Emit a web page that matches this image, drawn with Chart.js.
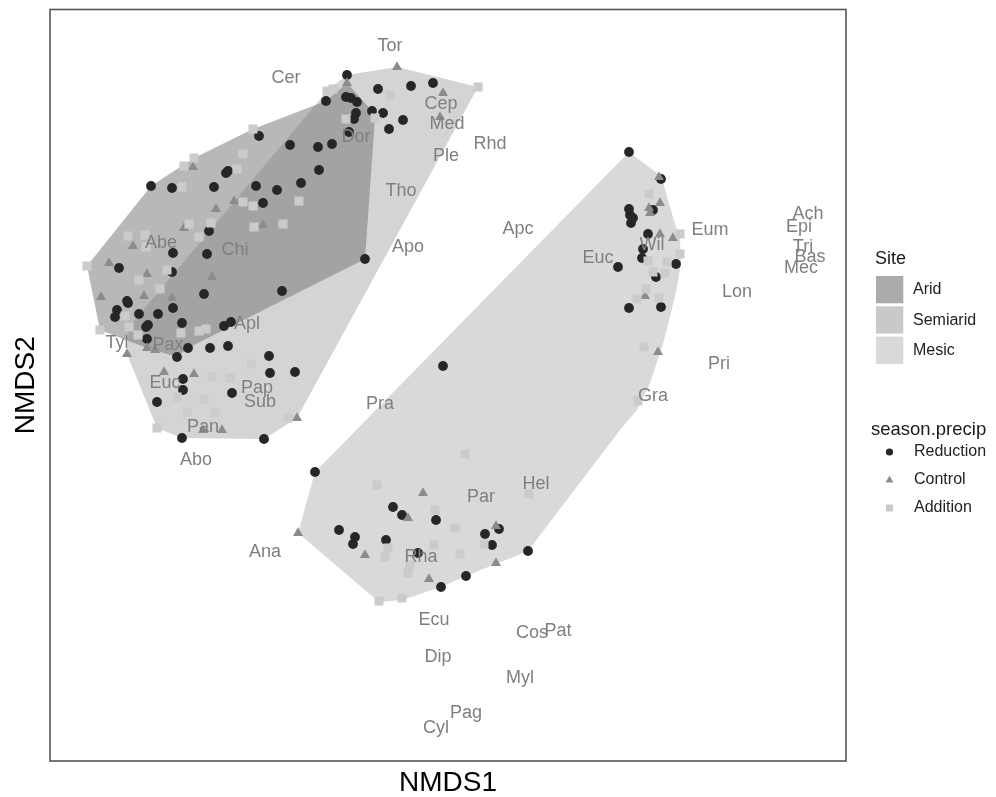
<!DOCTYPE html>
<html><head><meta charset="utf-8">
<script src="https://cdn.jsdelivr.net/npm/chart.js@4.4.1/dist/chart.umd.min.js"></script>
<style>html,body{margin:0;padding:0;background:#fff;}#wrap{width:996px;height:797px;position:relative;}</style>
</head><body><div id="wrap"><canvas id="c" width="996" height="797"></canvas></div>
<script>
// ---- DATA (NMDS scores) ----
const siteNames = ['Arid', 'Semiarid', 'Mesic'];
const treatmentNames = ['Reduction', 'Control', 'Addition'];

const reductionPts = [
 [-1.03,3.25],[-0.72,3.11],[-0.39,3.14],[-0.17,3.17],[-1.24,2.99],[-1.04,3.03],[-0.99,3.02],[-0.93,2.98],
 [-0.78,2.89],[-0.67,2.87],[-0.47,2.80],[-0.94,2.87],[-0.96,2.81],[-0.61,2.71],[-1.01,2.68],[-1.91,2.64],
 [-1.60,2.55],[-1.32,2.53],[-1.18,2.56],[-1.31,2.30],[-2.22,2.29],[-2.24,2.27],[-2.99,2.14],[-2.78,2.12],
 [-2.36,2.13],[-1.94,2.14],[-1.73,2.10],[-1.49,2.17],[-1.87,1.97],[-2.41,1.69],[-2.77,1.47],[-2.43,1.46],
 [-2.78,1.28],[-3.31,1.32],[-0.85,1.41],[-2.46,1.06],[-1.68,1.09],[-3.23,0.99],[-3.22,0.97],[-3.33,0.90],
 [-3.35,0.83],[-3.11,0.86],[-2.92,0.86],[-2.77,0.92],[-2.68,0.77],[-3.02,0.75],[-3.04,0.73],[-3.03,0.61],
 [-2.62,0.52],[-2.40,0.52],[-2.22,0.54],[-2.26,0.74],[-2.19,0.78],[-2.73,0.43],[-1.81,0.44],[-1.80,0.27],
 [-1.55,0.28],[-2.67,0.21],[-2.67,0.10],[-2.18,0.07],[-2.93,-0.02],[-2.68,-0.38],[-1.86,-0.39],
 [-0.07,0.34],[1.79,2.48],[2.11,2.21],[1.79,1.91],[1.80,1.85],[1.83,1.82],[1.81,1.77],[2.03,1.90],
 [1.98,1.66],[1.93,1.51],[1.92,1.42],[1.68,1.33],[2.26,1.36],[2.06,1.23],[1.79,0.92],[2.11,0.93],
 [-1.35,-0.72],[-0.57,-1.07],[-0.48,-1.15],[-0.14,-1.20],[-1.11,-1.30],[-0.95,-1.37],[-0.97,-1.44],
 [-0.64,-1.40],[-0.32,-1.53],[0.35,-1.34],[0.49,-1.29],[0.42,-1.45],[0.78,-1.51],[0.16,-1.76],[-0.09,-1.87]
];
const controlPts = [
 [-0.53,3.33],[-1.03,3.17],[-0.07,3.07],[-0.10,2.83],[-2.57,2.33],[-2.16,1.99],[-2.34,1.91],[-2.66,1.72],
 [-1.87,1.75],[-3.17,1.54],[-3.41,1.37],[-3.03,1.26],[-2.38,1.23],[-3.49,1.03],[-3.06,1.04],[-2.78,1.02],
 [-3.23,0.46],[-2.86,0.28],[-2.56,0.26],[-1.53,-0.18],[-2.47,-0.30],[-2.28,-0.30],[-3.03,0.52],[-2.95,0.50],
 [2.09,2.23],[2.10,1.97],[1.99,1.92],[2.00,1.87],[2.10,1.66],[2.23,1.62],[1.95,1.04],[2.08,0.48],
 [-1.52,-1.33],[-0.27,-0.93],[-0.42,-1.18],[0.46,-1.26],[-0.85,-1.55],[-0.21,-1.79],[0.46,-1.63]
];
const additionPts = [
 [-1.97,2.71],[-1.23,3.09],[-1.17,3.11],[-0.60,3.05],[-1.04,2.81],[-0.75,2.82],[-2.56,2.42],[-2.66,2.34],
 [-2.07,2.46],[-2.13,2.31],[-2.68,2.13],[-2.07,1.98],[-1.97,1.94],[-1.51,1.99],[-2.61,1.76],[-2.39,1.77],
 [-2.51,1.63],[-1.96,1.73],[-1.67,1.76],[-3.22,1.64],[-3.05,1.65],[-3.04,1.53],[-3.63,1.34],[-2.83,1.30],
 [-3.11,1.20],[-2.90,1.11],[-3.25,0.84],[-3.50,0.70],[-3.21,0.73],[-3.12,0.65],[-2.69,0.67],[-2.51,0.69],
 [-2.44,0.71],[-1.99,0.36],[-2.38,0.23],[-2.20,0.22],[-2.73,0.03],[-2.46,0.01],[-2.63,-0.12],[-2.35,-0.13],
 [-1.62,-0.18],[-2.93,-0.28],[0.28,3.13],
 [1.99,2.06],[2.30,1.66],[2.30,1.46],[1.98,1.39],[2.17,1.38],[2.15,1.27],[2.03,1.28],[1.96,1.11],
 [1.87,1.01],[2.09,1.02],[1.94,0.53],[1.88,-0.01],[0.15,-0.54],[-0.73,-0.85],[-0.15,-1.10],[0.05,-1.28],
 [-0.16,-1.45],[0.10,-1.54],[0.34,-1.44],[0.79,-0.94],[-0.65,-1.57],[-0.62,-1.48],[-0.40,-1.65],
 [-0.42,-1.73],[-0.71,-2.01],[-0.48,-1.98]
];

// convex hulls of each site (vertices)
const aridHull = [[-3.63,1.34],[-2.99,2.14],[-2.56,2.42],[-1.97,2.71],[-1.24,2.99],[-1.03,3.17],[-0.78,2.89],
 [-0.75,2.82],[-0.85,1.41],[-2.62,0.52],[-2.73,0.43],[-3.03,0.52],[-3.50,0.70]];
const semiaridHull = [[-0.53,3.33],[0.28,3.13],[-1.53,-0.18],[-1.86,-0.39],[-2.68,-0.38],[-2.93,-0.28],
 [-3.23,0.46],[-3.21,0.73],[-1.23,3.09],[-1.03,3.25]];
const mesicHull = [[1.79,2.48],[2.11,2.24],[2.23,1.83],[2.30,1.60],[2.31,1.37],[2.27,1.13],[2.20,0.83],
 [2.12,0.53],[2.00,0.17],[1.87,-0.10],[1.70,-0.30],[0.78,-1.51],[0.16,-1.76],[-0.09,-1.87],[-0.48,-2.00],
 [-0.71,-2.02],[-1.52,-1.33],[-1.35,-0.72]];

// species scores (labels)
const speciesNames = ['Tor','Cer','Cep','Med','Rhd','Ple','Dor','Tho','Apo','Apc','Euc','Wil','Eum','Ach','Epi',
 'Tri','Bas','Mec','Lon','Pri','Gra','Pra','Hel','Par','Rha','Ana','Ecu','Cos','Pat','Dip','Myl','Pag','Cyl',
 'Abe','Chi','Apl','Tyl','Pax','Euc','Pap','Sub','Pan','Abo'];
const speciesX = [-0.60,-1.64,-0.09,-0.03,0.40,-0.04,-0.94,-0.49,-0.42,0.68,1.48,2.02,2.60,3.58,3.49,
 3.53,3.60,3.51,2.87,2.69,2.03,-0.70,0.86,0.31,-0.29,-1.85,-0.16,0.82,1.08,-0.12,0.70,0.16,-0.14,
 -2.89,-2.15,-2.03,-3.33,-2.82,-2.85,-1.93,-1.90,-2.47,-2.54];
const speciesY = [3.54,3.22,2.96,2.76,2.56,2.44,2.63,2.09,1.53,1.71,1.42,1.55,1.70,1.86,1.73,
 1.53,1.43,1.32,1.08,0.36,0.04,-0.04,-0.84,-0.97,-1.57,-1.52,-2.20,-2.33,-2.31,-2.57,-2.78,-3.13,-3.28,
 1.57,1.50,0.76,0.57,0.55,0.17,0.12,-0.02,-0.27,-0.60];

// ---- STYLE ----
const FONT = '"Liberation Sans", Arial, Helvetica, sans-serif';
const siteFill = {Arid: 'rgba(119,119,119,0.52)', Semiarid: '#d4d4d4', Mesic: '#d9d9d9'};
const siteKey = {Arid: '#ababab', Semiarid: '#c9c9c9', Mesic: '#d9d9d9'};
const ptColor = {Reduction: '#262626', Control: '#8c8c8c', Addition: '#cbcbcb'};

const toXY = a => a.map(p => ({x: p[0], y: p[1]}));
const closed = a => toXY(a.concat([a[0]]));
const hullDs = (label, pts, order) => ({label, data: closed(pts), showLine: true, fill: 'shape',
  backgroundColor: siteFill[label], borderColor: 'rgba(0,0,0,0)', borderWidth: 0, pointRadius: 0,
  pointHoverRadius: 0, tension: 0, order});

const labelPlugin = {
  id: 'speciesLabels',
  afterDatasetsDraw(chart) {
    const {ctx, scales: {x, y}} = chart;
    ctx.save();
    ctx.font = '18px ' + FONT;
    ctx.fillStyle = '#7f7f7f';
    ctx.textAlign = 'center';
    ctx.textBaseline = 'middle';
    speciesNames.forEach((n, i) => ctx.fillText(n, x.getPixelForValue(speciesX[i]), y.getPixelForValue(speciesY[i])));
    ctx.restore();
  }
};
const framePlugin = {
  id: 'frameLegend',
  afterDraw(chart) {
    const {ctx, chartArea: a} = chart;
    ctx.save();
    ctx.strokeStyle = '#555';
    ctx.lineWidth = 1.6;
    ctx.strokeRect(a.left, a.top, a.right - a.left, a.bottom - a.top);
    // legend
    const lx = a.right + 30;
    ctx.textBaseline = 'middle';
    ctx.textAlign = 'left';
    ctx.fillStyle = '#1a1a1a';
    ctx.font = '18px ' + FONT;
    ctx.fillText('Site', lx - 1, 259);
    siteNames.forEach((s, i) => {
      const top = 276 + i * 30.3;
      ctx.fillStyle = siteKey[s];
      ctx.fillRect(lx, top, 27.3, 27.3);
      ctx.fillStyle = '#222';
      ctx.font = '16px ' + FONT;
      ctx.fillText(s, lx + 37, top + 14);
    });
    ctx.fillStyle = '#1a1a1a';
    ctx.font = '18.5px ' + FONT;
    ctx.fillText('season.precip', lx - 5, 430);
    treatmentNames.forEach((t, i) => {
      const cy = 452 + i * 28, cx = lx + 13.5;
      ctx.fillStyle = ptColor[t];
      ctx.beginPath();
      if (t === 'Reduction') { ctx.arc(cx, cy, 3.6, 0, Math.PI * 2); }
      else if (t === 'Control') { ctx.moveTo(cx, cy - 4.2); ctx.lineTo(cx + 4, cy + 2.6); ctx.lineTo(cx - 4, cy + 2.6); ctx.closePath(); }
      else { ctx.rect(cx - 3.5, cy - 3.5, 7, 7); }
      ctx.fill();
      ctx.fillStyle = '#222';
      ctx.font = '16px ' + FONT;
      ctx.fillText(t, lx + 38, cy);
    });
    ctx.restore();
  }
};

new Chart(document.getElementById('c'), {
  type: 'scatter',
  data: {
    datasets: [
      hullDs('Mesic', mesicHull, 10),
      hullDs('Semiarid', semiaridHull, 9),
      hullDs('Arid', aridHull, 8),
      {label: 'Reduction', data: toXY(reductionPts), pointStyle: 'circle', pointRadius: 4.9, pointHoverRadius: 4.9,
       backgroundColor: ptColor.Reduction, borderWidth: 0, order: 3},
      {label: 'Control', data: toXY(controlPts), pointStyle: 'triangle', pointRadius: 5.8, pointHoverRadius: 5.8,
       backgroundColor: ptColor.Control, borderWidth: 0, order: 2},
      {label: 'Addition', data: toXY(additionPts), pointStyle: 'rect', pointRadius: 6.4, pointHoverRadius: 6.4,
       backgroundColor: ptColor.Addition, borderWidth: 0, order: 1}
    ]
  },
  options: {
    responsive: false, devicePixelRatio: 1, animation: false,
    layout: {padding: {top: 9.5, right: 150, left: 0, bottom: 0}},
    plugins: {legend: {display: false}, tooltip: {enabled: false}},
    scales: {
      x: {type: 'linear', min: -4.00, max: 3.96, grid: {display: false}, border: {display: false},
          ticks: {display: false},
          title: {display: true, text: 'NMDS1', color: '#000', font: {family: FONT, size: 28, lineHeight: 1}, padding: {top: 0, bottom: 0}},
          afterFit(s) { s.height = 36; }},
      y: {type: 'linear', min: -3.61, max: 3.905, grid: {display: false}, border: {display: false},
          ticks: {display: false},
          title: {display: true, text: 'NMDS2', color: '#000', font: {family: FONT, size: 28, lineHeight: 1}, padding: {top: 12, bottom: 0}},
          afterFit(s) { s.width = 50; }}
    }
  },
  plugins: [labelPlugin, framePlugin]
});
</script></body></html>
